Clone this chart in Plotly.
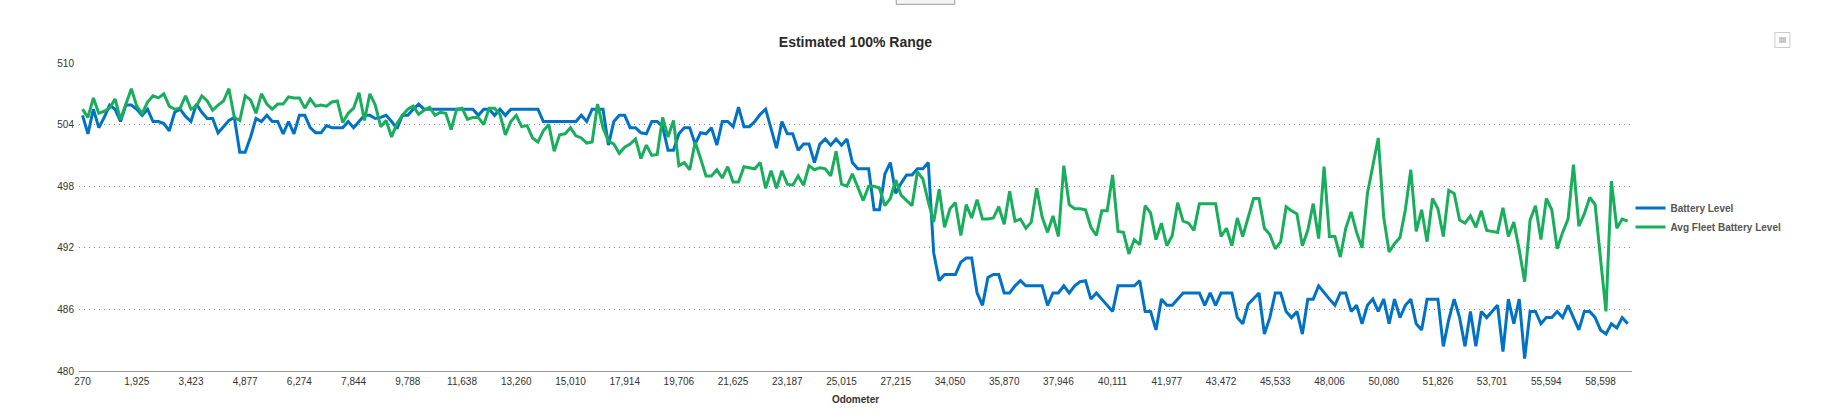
import plotly.graph_objects as go

TICK_LABELS = ["270","1,925","3,423","4,877","6,274","7,844","9,788","11,638","13,260","15,010",
               "17,914","19,706","21,625","23,187","25,015","27,215","34,050","35,870","37,946","40,111",
               "41,977","43,472","45,533","48,006","50,080","51,826","53,701","55,594","58,598"]

BATTERY = [
504.9,503.1,505.5,503.7,504.7,505.9,505.5,504.3,505.9,505.9,
505.5,504.9,505.5,504.3,504.3,504.1,503.4,505.2,505.5,504.8,
504.3,506.0,505.2,504.6,504.6,503.2,503.8,504.4,504.7,501.3,
501.3,502.8,504.6,504.3,504.9,504.3,504.3,503.1,504.3,503.1,
504.9,504.9,503.7,503.2,503.2,503.9,503.7,503.7,503.7,504.3,
503.7,504.3,504.9,504.9,504.6,504.7,504.9,504.3,503.6,504.9,
504.9,505.5,506.0,505.5,505.5,505.5,505.5,505.5,505.5,505.5,
505.5,505.5,505.5,504.9,505.5,505.5,504.9,505.5,504.9,505.5,
505.5,505.5,505.5,505.5,505.5,504.3,504.3,504.3,504.3,504.3,
504.3,504.3,504.9,504.3,505.5,505.5,505.5,502.0,504.3,504.9,
504.9,503.7,503.7,503.2,503.1,504.3,504.3,503.8,501.5,501.5,
503.1,503.7,503.7,502.1,503.2,503.1,503.7,502.0,504.3,504.3,
503.8,505.7,503.8,503.8,504.3,505.0,505.5,503.6,501.7,504.3,
503.1,503.1,501.5,502.1,502.1,500.3,502.1,502.6,502.0,502.6,
502.0,502.6,500.3,499.7,499.7,499.7,495.7,495.7,499.2,500.3,
497.3,498.3,499.1,499.1,499.7,499.7,500.3,491.5,488.8,489.4,
489.4,489.4,490.6,491.0,491.0,487.6,486.4,489.1,489.4,489.4,
487.6,487.6,488.3,488.8,488.3,488.3,488.3,488.3,486.4,487.6,
487.6,488.3,487.6,488.3,488.7,488.8,487.0,487.6,487.0,486.4,
485.8,488.3,488.3,488.3,488.3,488.8,485.8,485.8,484.0,487.0,
486.4,486.4,487.0,487.6,487.6,487.6,487.6,486.4,487.6,486.4,
487.6,487.6,487.6,485.2,484.6,486.5,487.0,487.6,483.6,485.2,
487.6,487.6,485.8,485.2,485.8,483.6,487.0,487.0,488.3,487.6,
487.0,486.4,487.6,487.6,485.8,486.4,484.6,486.4,487.0,485.8,
487.0,484.6,487.0,485.2,486.4,487.0,484.6,484.0,487.0,487.0,
487.0,482.4,485.0,487.0,485.2,482.4,485.8,482.4,485.8,485.2,
485.8,486.4,481.9,487.0,484.6,487.0,481.2,485.8,485.8,484.6,
485.2,485.2,485.8,485.2,486.4,485.2,484.0,485.8,485.8,485.2,
484.0,483.6,484.6,484.2,485.2,484.6]

FLEET = [
505.5,504.7,506.6,505.1,505.3,505.6,506.5,504.5,506.0,507.5,
505.8,505.1,506.2,506.8,506.6,507.0,505.8,505.5,505.6,506.8,
505.5,505.8,506.8,506.3,505.4,505.9,506.3,507.5,504.7,504.4,
506.8,506.4,505.1,507.0,506.0,505.5,506.0,506.0,506.7,506.6,
506.6,505.6,506.5,505.8,505.9,505.8,506.2,506.3,504.2,505.1,
505.6,507.1,504.4,507.0,505.9,503.8,504.4,502.8,504.1,504.9,
505.5,505.8,505.0,505.4,505.7,504.9,505.2,505.1,503.5,505.5,
505.6,504.5,504.7,504.7,504.0,505.6,505.6,505.0,503.0,504.3,
504.9,503.8,503.9,502.7,502.3,503.4,504.0,501.4,503.0,503.1,
503.7,502.9,502.7,502.2,502.3,506.0,503.7,502.4,502.1,501.2,
501.8,502.1,502.6,500.7,502.0,501.0,501.1,504.7,502.8,504.4,
500.0,500.3,499.6,502.3,500.7,499.0,499.0,499.6,498.8,499.9,
498.4,498.4,499.9,499.8,499.7,500.3,497.8,499.5,497.8,499.5,
498.2,498.1,499.0,498.1,500.0,499.6,499.8,499.7,499.0,501.4,
498.2,498.0,499.2,497.9,496.6,498.0,498.0,497.8,496.1,496.8,
498.6,497.1,496.6,496.1,499.4,498.7,496.5,494.5,497.7,494.0,
495.8,496.4,493.2,496.2,494.9,496.7,494.8,494.8,494.9,496.0,
494.3,497.5,494.6,494.8,493.9,494.5,497.8,495.0,493.5,495.1,
493.1,500.0,496.2,495.8,495.8,495.7,494.0,493.2,495.6,495.6,
499.1,493.6,493.5,491.4,492.8,492.3,496.1,495.4,492.8,494.4,
492.2,493.2,496.4,494.6,494.4,493.7,496.3,496.3,496.3,496.3,
493.1,493.9,492.2,494.9,493.1,494.9,496.8,496.8,493.9,493.3,
491.9,492.6,496.0,495.6,495.3,492.2,493.7,496.3,492.9,499.9,
493.1,493.1,491.1,493.9,495.5,493.5,492.0,497.3,499.9,502.7,
495.0,491.6,492.4,493.0,495.7,499.6,493.6,495.7,492.6,496.8,
495.8,493.1,497.6,497.3,494.7,494.4,495.1,494.0,495.6,493.7,
493.6,493.5,495.9,493.1,494.5,491.8,488.7,494.7,496.1,492.8,
496.8,495.7,491.9,493.5,494.8,500.1,494.1,495.3,496.9,496.2,
490.9,485.8,498.5,493.9,494.8,494.6]

BLUE, GREEN = "#0072C6", "#19AE5B"
FONT = "Liberation Sans"
W, H = 1838, 420
L, R, T, B = 79, 1632.5, 63, 371
X_POS = list(range(len(BATTERY)))
TICK_POS = X_POS[::10]

def px(v): return (v - L) / (R - L)
def py(v): return (B - v) / (B - T)

fig = go.Figure()
fig.add_trace(go.Scatter(x=X_POS, y=BATTERY, mode="lines", name="Battery Level",
                         line=dict(color=BLUE, width=3), cliponaxis=False))
fig.add_trace(go.Scatter(x=X_POS, y=FLEET, mode="lines", name="Avg Fleet Battery Level",
                         line=dict(color=GREEN, width=3), cliponaxis=False))

chrome = dict(type="rect", xref="paper", yref="paper", layer="below")
fig.update_layout(
    width=W, height=H, autosize=False,
    margin=dict(l=L, r=W - R, t=T, b=H - B, pad=0),
    paper_bgcolor="white", plot_bgcolor="white",
    font=dict(family=FONT, size=10, color="#333333"),
    title=dict(text="<b>Estimated 100% Range</b>", x=px(855.7), xref="paper", xanchor="center",
               y=1 - 42.5 / H, yanchor="middle", font=dict(size=14, color="#2a2a2a", family=FONT)),
    xaxis=dict(range=[-0.65, 285.8], tickmode="array", tickvals=TICK_POS, ticktext=TICK_LABELS,
               tickangle=0, showgrid=False, zeroline=False, showline=True, linecolor="#999999", linewidth=1,
               ticks="", tickfont=dict(size=10, color="#333333"), ticklabelstandoff=1,
               title=dict(text="<b>Odometer</b>", font=dict(size=10, color="#333333"), standoff=9)),
    yaxis=dict(range=[480, 510], tickmode="array", tickvals=[480, 486, 492, 498, 504, 510],
               showgrid=True, gridcolor="#8a8a8a", gridwidth=1, griddash="1px,4px", zeroline=False,
               showline=False, ticks="", tickfont=dict(size=10, color="#333333"), ticklabelstandoff=4),
    showlegend=True,
    legend=dict(x=px(1631), xref="paper", xanchor="left", y=py(217.5), yanchor="middle",
                bgcolor="rgba(0,0,0,0)", font=dict(size=10, color="#555555", family=FONT, weight="bold"),
                itemwidth=30, tracegroupgap=0),
    shapes=[
        dict(chrome, x0=px(896.5), x1=px(955), y0=py(4.3), y1=py(-3), fillcolor="#f4f4f4",
             line=dict(color="#9a9a9a", width=1)),
        dict(chrome, x0=px(1775.5), x1=px(1790.5), y0=py(47.5), y1=py(32.5), fillcolor="white",
             line=dict(color="#cccccc", width=1)),
        dict(chrome, x0=px(1779.5), x1=px(1786.5), y0=py(43), y1=py(37), fillcolor="#c8c8c8",
             line=dict(width=0)),
    ],
)
fig.write_html("out.html", config=dict(displayModeBar=False),
               post_script="document.body.style.margin='0';")
